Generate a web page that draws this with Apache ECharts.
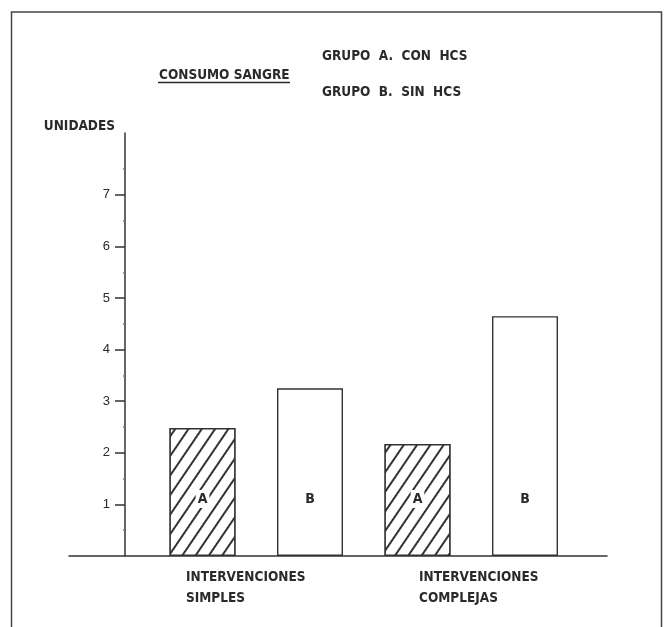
<!DOCTYPE html>
<html>
<head>
<meta charset="utf-8">
<script src="https://cdn.jsdelivr.net/npm/echarts@6/dist/echarts.min.js"></script>
<style>
html,body{margin:0;padding:0;background:#fff;}
#c{width:667px;height:627px;}
</style>
</head>
<body>
<div id="c"></div>
<script>
// ---- data ----
const categories = ['INTERVENCIONES\nSIMPLES', 'INTERVENCIONES\nCOMPLEJAS'];
const groups = ['A', 'B'];
const groupA = [2.48, 2.17];
const groupB = [3.25, 4.65];
const yTicks = [1, 2, 3, 4, 5, 6, 7];
const yMax = 8.2;
const titleText = 'CONSUMO SANGRE';
const legendLines = ['GRUPO  A.  CON  HCS', 'GRUPO  B.  SIN  HCS'];
const yName = 'UNIDADES';

// ---- build ----
const FONT = '"Liberation Sans Narrow", "DejaVu Sans Condensed", sans-serif';
const FS = 13.5;
const INK = '#2a2a2a';
const slots = [];
const barData = [];
categories.forEach((c, i) => {
  [groupA, groupB].forEach((arr, g) => {
    slots.push(c + '|' + groups[g]);
    const hatched = g === 0;
    barData.push({
      value: arr[i],
      groupName: groups[g],
      itemStyle: hatched ? {
        color: '#fff',
        decal: {
          symbol: 'rect', symbolSize: 1,
          dashArrayX: [1, 0], dashArrayY: [1.2, 8.5],
          rotation: -Math.PI * 0.31,
          color: '#333', backgroundColor: '#fff'
        }
      } : { color: '#fff', decal: null }
    });
  });
});

const chart = echarts.init(document.getElementById('c'), null, { renderer: 'canvas' });
chart.setOption({
  backgroundColor: '#fff',
  animation: false,
  title: [
    { text: titleText, left: 154, top: 63,
      textStyle: { fontFamily: FONT, fontWeight: 'bold', fontSize: FS, color: INK } },
    { text: legendLines.join('\n'), left: 317, top: 33,
      textStyle: { fontFamily: FONT, fontWeight: 'bold', fontSize: FS, color: INK, lineHeight: 36 } }
  ],
  graphic: [
    { type: 'rect', shape: { x: 11.5, y: 12, width: 650, height: 700 },
      style: { fill: 'none', stroke: '#444', lineWidth: 1.5 }, silent: true },
    { type: 'line', shape: { x1: 158, y1: 82.5, x2: 290, y2: 82.5 },
      style: { stroke: INK, lineWidth: 1.5 }, silent: true }
  ],
  grid: [
    { left: 148.75, right: 88.25, top: 133, bottom: 71 },
    { left: 69, right: 60, top: 133, bottom: 71 },
    { left: 69.5, right: 131.5, top: 133, bottom: 71 }
  ],
  xAxis: [
    { gridIndex: 0, type: 'category', data: slots,
      axisLine: { show: false }, axisTick: { show: false }, axisLabel: { show: false } },
    { gridIndex: 1, type: 'category', data: [''],
      axisLine: { show: true, lineStyle: { color: '#333', width: 1.5 } },
      axisTick: { show: false }, axisLabel: { show: false } },
    { gridIndex: 2, type: 'category', data: categories,
      axisLine: { show: false }, axisTick: { show: false },
      axisLabel: { show: true, align: 'left', margin: 11, interval: 0,
        fontFamily: FONT, fontWeight: 'bold', fontSize: FS, lineHeight: 21, color: INK } }
  ],
  yAxis: [
    { gridIndex: 0, type: 'value', min: 0, max: yMax, interval: 1, offset: 23.75,
      name: yName, nameLocation: 'end', nameGap: 0,
      nameTextStyle: { fontFamily: FONT, fontWeight: 'bold', fontSize: FS, color: INK,
        align: 'right', verticalAlign: 'bottom', padding: [0, 10, 0, 0] },
      axisLine: { show: true, lineStyle: { color: '#333', width: 1.5 } },
      axisTick: { show: true, length: 10, customValues: yTicks, lineStyle: { color: '#333', width: 1.5 } },
      minorTick: { show: true, splitNumber: 2, length: 2, lineStyle: { color: '#777', width: 1.5 } },
      axisLabel: { show: true, customValues: yTicks, margin: 15,
        fontFamily: '"Liberation Sans", sans-serif', fontSize: 13, color: INK },
      splitLine: { show: false }
    },
    { gridIndex: 1, type: 'value', min: 0, max: yMax, show: false },
    { gridIndex: 2, type: 'value', min: 0, max: yMax, show: false }
  ],
  series: [
    { type: 'bar', xAxisIndex: 0, yAxisIndex: 0, barWidth: 66,
      data: barData,
      itemStyle: { borderColor: '#333', borderWidth: 1.4, color: '#fff' },
      label: { show: true, position: 'insideBottom', distance: 48,
        formatter: p => p.data.groupName,
        fontFamily: FONT, fontWeight: 'bold', fontSize: 14, lineHeight: 16, color: INK,
        backgroundColor: '#fff', padding: [1, 2] }
    }
  ]
});
</script>
</body>
</html>
